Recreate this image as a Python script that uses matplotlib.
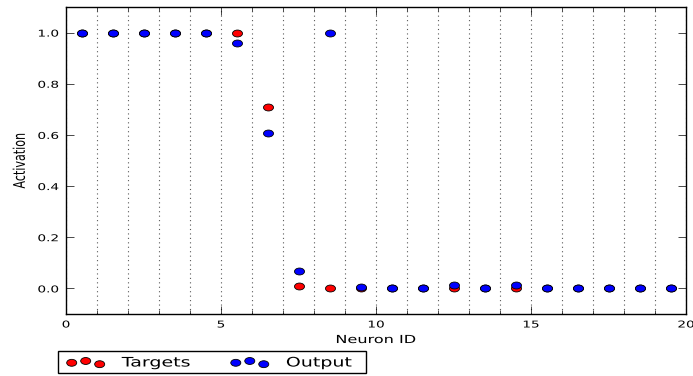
import numpy as np
import matplotlib
matplotlib.use("Agg")
import matplotlib.pyplot as plt
from matplotlib.path import Path
from matplotlib.markers import MarkerStyle
from matplotlib.patches import Rectangle
from matplotlib.patheffects import AbstractPathEffect
from matplotlib.transforms import Affine2D
from matplotlib.ticker import MultipleLocator, FixedLocator

# ---------------- data ----------------
neuron_ids = [0.5, 1.5, 2.5, 3.5, 4.5, 5.5, 6.5, 7.5, 8.5, 9.5,
              10.5, 11.5, 12.5, 13.5, 14.5, 15.5, 16.5, 17.5, 18.5, 19.5]
targets = [1.0, 1.0, 1.0, 1.0, 1.0, 1.0, 0.71, 0.01, 0.0, 0.0,
           0.0, 0.0, 0.0, 0.0, 0.0, 0.0, 0.0, 0.0, 0.0, 0.0]
outputs = [1.0, 0.997, 1.0, 1.0, 1.0, 0.958, 0.608, 0.07, 1.0, 0.006,
           0.0, 0.003, 0.014, 0.0, 0.014, 0.0, 0.0, 0.0, 0.002, 0.002]
x_ticks = [0, 5, 10, 15, 20]
y_ticks = [0.0, 0.2, 0.4, 0.6, 0.8, 1.0]
series_labels = ["Targets", "Output"]
x_label = "Neuron ID"
y_label = "Activation"

STRETCH = 1.45  # horizontal stretch of the reference rendering


class Squash(AbstractPathEffect):
    """Scale text glyphs along one axis (text stays a normal Text artist)."""
    def __init__(self, sx=1.0, sy=1.0, cy=0.0, center_x=False):
        super().__init__()
        self.sx, self.sy, self.cy, self.center_x = sx, sy, cy, center_x

    def draw_path(self, renderer, gc, tpath, affine, rgbFace=None):
        if len(tpath.vertices) == 0:
            return
        cx = 0.0
        if self.center_x:
            ext = tpath.get_extents()
            cx = 0.5 * (ext.x0 + ext.x1)
        pre = (Affine2D().translate(-cx, -self.cy)
               .scale(self.sx, self.sy).translate(cx, self.cy))
        renderer.draw_path(gc, tpath, pre + affine, rgbFace)


# ellipse marker (circle stretched horizontally like the reference)
circ = Path.unit_circle()
ell = Path(circ.vertices * np.array([STRETCH, 1.0]), circ.codes)
marker = MarkerStyle(ell)

W, H = 693, 376
fig = plt.figure(figsize=(W / 100, H / 100), dpi=100)
fig.patch.set_facecolor("white")
ax = fig.add_axes([66 / W, 62 / H, 620 / W, 307 / H])

ax.scatter(neuron_ids, targets, s=52, marker=marker, c="#ff0000",
           edgecolors="black", linewidths=0.6, zorder=3, label=series_labels[0])
ax.scatter(neuron_ids, outputs, s=52, marker=marker, c="#0000ff",
           edgecolors="black", linewidths=0.6, zorder=4, label=series_labels[1])

ax.set_xlim(0, 20)
ax.set_ylim(-0.1, 1.1)
ax.xaxis.set_major_locator(FixedLocator(x_ticks))
ax.xaxis.set_minor_locator(MultipleLocator(1))
ax.yaxis.set_major_locator(FixedLocator(y_ticks))
ax.set_xticks(x_ticks)
ax.set_yticks(y_ticks)

ax.grid(True, which="both", axis="x", linestyle=(0, (1, 3)), color="0.35",
        linewidth=0.8, zorder=1)
ax.set_axisbelow(True)

for sp in ax.spines.values():
    sp.set_linewidth(1.0)
    sp.set_color("black")

ax.tick_params(which="both", direction="in", top=True, right=True,
               color="black", width=0.5)
ax.tick_params(which="major", length=5.6)
ax.tick_params(which="minor", length=2.8)
ax.tick_params(axis="x", which="major", labelsize=9.8, pad=4.0)
ax.tick_params(axis="y", which="major", labelsize=9.8, pad=5.0)

ax.set_xlabel(x_label, fontsize=11.6, labelpad=0.8)
ax.set_ylabel(y_label, fontsize=11.6, labelpad=6.9)

for lab in ax.get_xticklabels():
    lab.set_path_effects([Squash(sy=1 / STRETCH, cy=72.9)])
for lab in ax.get_yticklabels():
    lab.set_path_effects([Squash(sy=1 / STRETCH, cy=36.5)])
ax.xaxis.label.set_path_effects([Squash(sy=1 / STRETCH, cy=72.9)])
ax.yaxis.label.set_path_effects([Squash(sx=1 / STRETCH, center_x=True)])

leg = fig.legend(loc="lower left", bbox_to_anchor=(66 / W, 5.5 / H),
                 ncol=2, scatterpoints=3,
                 scatteryoffsets=[0.278, 0.414, 0.173],
                 fontsize=13.7, frameon=False, borderpad=0.0,
                 borderaxespad=0.0, handlelength=2.07, handletextpad=0.86,
                 columnspacing=2.08)
for t in leg.get_texts():
    t.set_path_effects([Squash(sy=1 / STRETCH, cy=0.0)])

fig.add_artist(Rectangle((58 / W, 3 / H), 308 / W, 22 / H,
                         transform=fig.transFigure, fill=False,
                         edgecolor="black", linewidth=1.0))

fig.savefig("out.png", dpi=100, facecolor="white")
